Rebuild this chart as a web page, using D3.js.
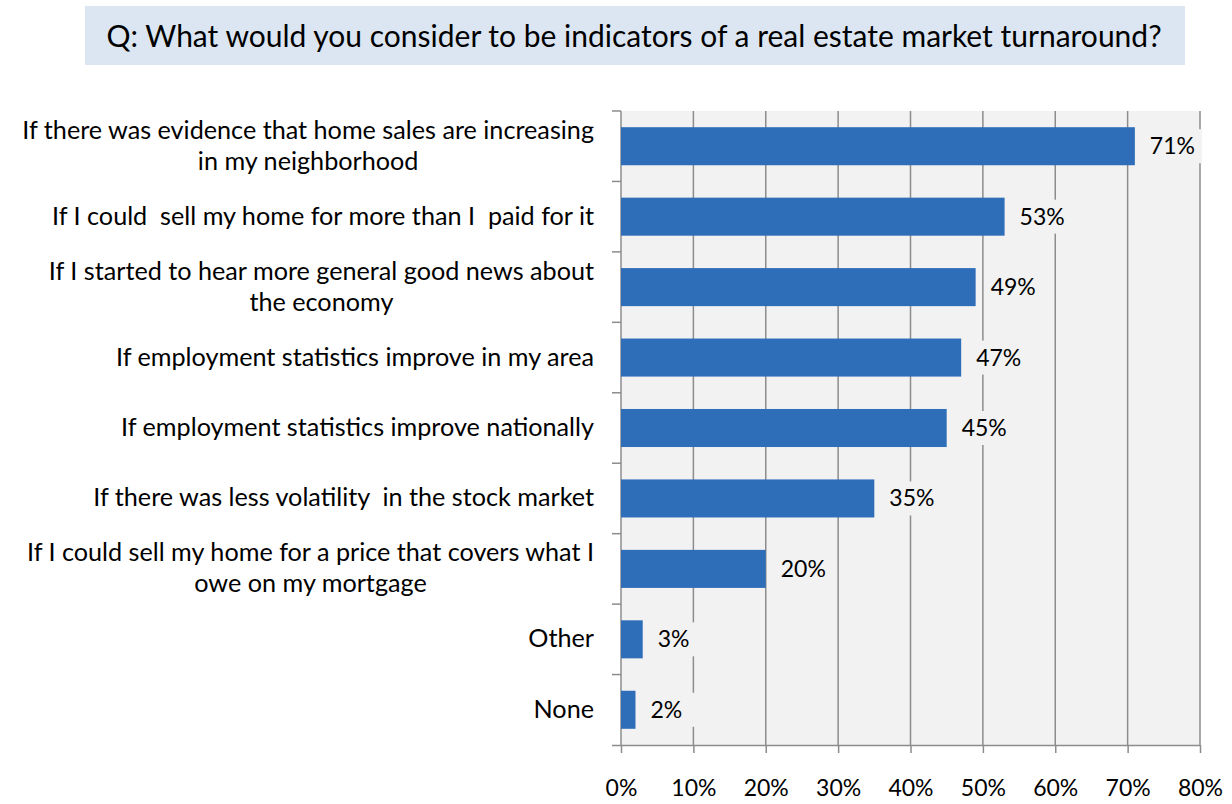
<!DOCTYPE html>
<html>
<head>
<meta charset="utf-8">
<script src="https://cdn.jsdelivr.net/npm/d3@7"></script>
<style>
  body { margin: 0; background: #fff; }
  svg text { font-family: Lato, "Open Sans", sans-serif; fill: #000; white-space: pre; }
</style>
</head>
<body>
<div class="chart"></div>
<script>
const title = 'Q: What would you consider to be indicators of a real estate market turnaround?';
const categories = [
  ['If there was evidence that home sales are increasing', 'in my neighborhood'],
  ['If I could  sell my home for more than I  paid for it'],
  ['If I started to hear more general good news about', 'the economy'],
  ['If employment statistics improve in my area'],
  ['If employment statistics improve nationally'],
  ['If there was less volatility  in the stock market'],
  ['If I could sell my home for a price that covers what I', 'owe on my mortgage'],
  ['Other'],
  ['None']
];
const values = [71, 53, 49, 47, 45, 35, 20, 3, 2];
const ticks = [0, 10, 20, 30, 40, 50, 60, 70, 80];

const w = 1232;
const h = 804;
const plot = { left: 621, right: 1200, top: 111, bottom: 745 };

const svg = d3.select('.chart')
  .append('svg')
  .attr('width', w)
  .attr('height', h);

// title box
svg.append('rect')
  .attr('x', 85).attr('y', 6)
  .attr('width', 1100).attr('height', 59)
  .attr('fill', '#dce6f2');
svg.append('text')
  .attr('x', 634).attr('y', 47)
  .attr('text-anchor', 'middle')
  .style('font-size', '30px')
  .text(title);

const xScale = d3.scaleLinear()
  .domain([0, 80])
  .range([plot.left, plot.right]);
const yScale = d3.scaleBand()
  .domain(d3.range(categories.length))
  .range([plot.top, plot.bottom])
  .paddingInner(0.46)
  .paddingOuter(0.23);

svg.append('rect')
  .attr('x', plot.left).attr('y', plot.top)
  .attr('width', plot.right - plot.left).attr('height', plot.bottom - plot.top)
  .attr('fill', '#f2f2f2');

// vertical gridlines
svg.selectAll('.grid')
  .data(ticks.slice(1))
  .enter()
  .append('line')
  .attr('class', 'grid')
  .attr('x1', (d) => xScale(d)).attr('x2', (d) => xScale(d))
  .attr('y1', plot.top).attr('y2', plot.bottom)
  .attr('stroke', '#8c8c8c')
  .attr('stroke-width', 1.5);

// x axis
const xAxis = svg.append('g')
  .attr('class', 'x-axis')
  .attr('transform', `translate(0, ${plot.bottom})`)
  .call(d3.axisBottom(xScale).tickValues(ticks).tickFormat((d) => d + '%').tickSize(8).tickSizeOuter(0).tickPadding(27));
xAxis.select('.domain').attr('stroke', '#8c8c8c').attr('stroke-width', 1.5)
  .attr('d', `M${plot.left - 9},0.5H${plot.right}`);
xAxis.selectAll('.tick line').attr('stroke', '#8c8c8c').attr('stroke-width', 1.5);
xAxis.selectAll('.tick text').style('font-size', '23px').style('font-family', 'Lato, sans-serif').attr('fill', '#000');

// y axis (ticks between categories)
const yEdges = d3.range(categories.length + 1).map((i) => plot.top + i * (plot.bottom - plot.top) / categories.length);
svg.append('line')
  .attr('x1', plot.left).attr('x2', plot.left)
  .attr('y1', plot.top).attr('y2', plot.bottom)
  .attr('stroke', '#8c8c8c').attr('stroke-width', 1.5);
svg.selectAll('.ytick')
  .data(yEdges.slice(0, -1))
  .enter()
  .append('line')
  .attr('class', 'ytick')
  .attr('x1', plot.left - 9).attr('x2', plot.left)
  .attr('y1', (d) => d).attr('y2', (d) => d)
  .attr('stroke', '#8c8c8c').attr('stroke-width', 1.5);

// bars
svg.selectAll('.bar')
  .data(values)
  .enter()
  .append('rect')
  .attr('class', 'bar')
  .attr('x', xScale(0))
  .attr('y', (d, i) => yScale(i))
  .attr('width', (d) => xScale(d) - xScale(0))
  .attr('height', yScale.bandwidth())
  .attr('fill', '#2e6db8');

// value labels with background covering the gridlines
const labels = svg.selectAll('.val')
  .data(values)
  .enter()
  .append('g')
  .attr('class', 'val');
labels.append('rect')
  .attr('x', (d) => xScale(d) + 9)
  .attr('y', (d, i) => yScale(i) + yScale.bandwidth() / 2 - 17)
  .attr('width', 58).attr('height', 34)
  .attr('fill', '#f2f2f2');
labels.append('text')
  .attr('x', (d) => xScale(d) + 15)
  .attr('y', (d, i) => yScale(i) + yScale.bandwidth() / 2 + 8)
  .style('font-size', '23px')
  .text((d) => d + '%');

// category labels: lines centred on each other, block right-aligned
const labelRight = 594;
svg.selectAll('.cat')
  .data(categories)
  .enter()
  .append('text')
  .attr('class', 'cat')
  .attr('text-anchor', 'middle')
  .style('font-size', '25.2px')
  .each(function (lines, i) {
    const cy = yScale(i) + yScale.bandwidth() / 2;
    const n = lines.length;
    const t = d3.select(this);
    const spans = lines.map((line, j) => t.append('tspan')
      .attr('y', cy + 8 + (j - (n - 1) / 2) * 31)
      .text(line));
    const maxW = d3.max(spans, (s) => s.node().getComputedTextLength());
    spans.forEach((s) => s.attr('x', labelRight - maxW / 2));
  });
</script>
</body>
</html>
